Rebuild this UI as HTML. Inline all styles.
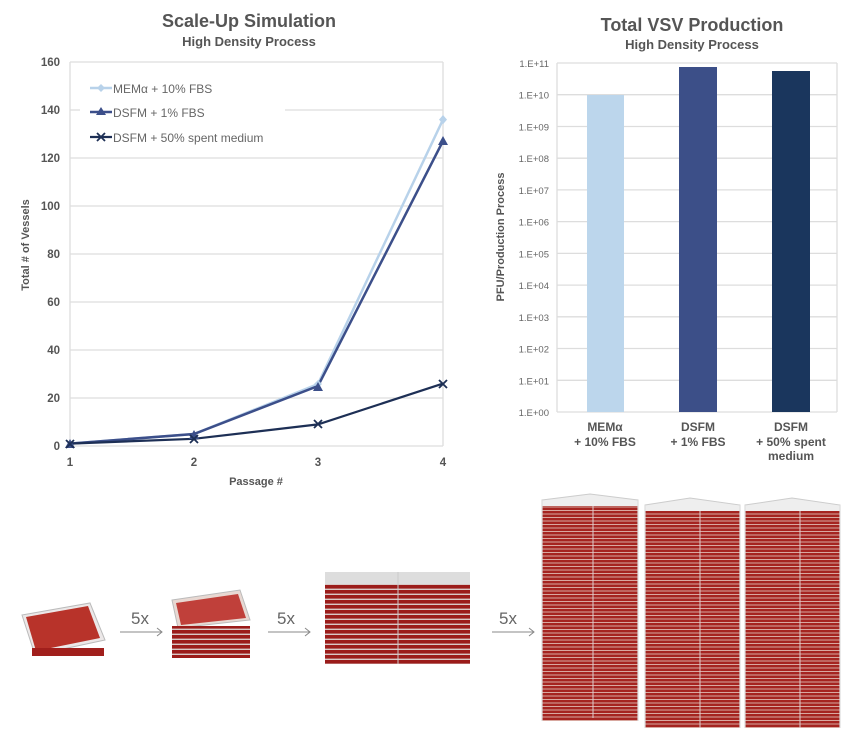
<!DOCTYPE html>
<html><head><meta charset="utf-8"><style>
body{margin:0;background:#fff;}
svg text{font-family:"Liberation Sans",Arial,sans-serif;}
</style></head><body>
<svg width="865" height="731" viewBox="0 0 865 731" xmlns="http://www.w3.org/2000/svg">
<defs>
<pattern id="st" width="10" height="5" patternUnits="userSpaceOnUse">
<rect width="10" height="5" fill="#9b1c1a"/><rect y="3.6" width="10" height="1.4" fill="#d9c8c6"/>
</pattern>
<pattern id="st2" width="10" height="3.5" patternUnits="userSpaceOnUse">
<rect width="10" height="3.5" fill="#a52420"/><rect y="2.5" width="10" height="1" fill="#d8a8a0"/>
</pattern>
</defs>
<!-- Left chart -->
<text x="249" y="27" text-anchor="middle" font-size="18" font-weight="bold" fill="#555">Scale-Up Simulation</text>
<text x="249" y="46" text-anchor="middle" font-size="13" font-weight="bold" fill="#555">High Density Process</text>
<g stroke="#ddd" stroke-width="1.3">
<line x1="70" y1="62" x2="443" y2="62"/><line x1="80" y1="110" x2="70" y2="110"/><line x1="285" y1="110" x2="443" y2="110"/>
<line x1="70" y1="158" x2="443" y2="158"/><line x1="70" y1="206" x2="443" y2="206"/>
<line x1="70" y1="254" x2="443" y2="254"/><line x1="70" y1="302" x2="443" y2="302"/><line x1="70" y1="350" x2="443" y2="350"/>
<line x1="70" y1="398" x2="443" y2="398"/><line x1="70" y1="446" x2="443" y2="446"/>
<line x1="70" y1="62" x2="70" y2="446"/><line x1="443" y1="62" x2="443" y2="446"/>
</g>
<g font-size="11.5" font-weight="bold" fill="#555" text-anchor="end">
<text x="60" y="66">160</text><text x="60" y="114">140</text><text x="60" y="162">120</text><text x="60" y="210">100</text>
<text x="60" y="258">80</text><text x="60" y="306">60</text><text x="60" y="354">40</text><text x="60" y="402">20</text><text x="60" y="450">0</text>
</g>
<g font-size="11.5" font-weight="bold" fill="#555" text-anchor="middle">
<text x="70" y="466">1</text><text x="194" y="466">2</text><text x="318" y="466">3</text><text x="443" y="466">4</text>
<text x="256" y="485" font-size="11">Passage #</text>
</g>
<text transform="translate(29,245) rotate(-90)" text-anchor="middle" font-size="11" font-weight="bold" fill="#555">Total # of Vessels</text>
<polyline points="70,443.6 194,434 318,384 443,119.6" fill="none" stroke="#b8d2ea" stroke-width="2.5"/>
<polyline points="70,443.6 194,434 318,386 443,141" fill="none" stroke="#3c4f8a" stroke-width="2.5"/>
<polyline points="70,443.6 194,438.8 318,424.4 443,383.6" fill="none" stroke="#1d2f55" stroke-width="2.2"/>
<g fill="#b8d2ea"><path d="M443 115l4 4.6-4 4.6-4-4.6z"/><path d="M318 380l4 4-4 4-4-4z"/></g>
<g fill="#3c4f8a"><path d="M443 136l5 9h-10z"/><path d="M318 382l5 9h-10z"/><path d="M194 430l5 9h-10z"/><path d="M70 439l5 9h-10z"/></g>
<g stroke="#1d2f55" stroke-width="1.8"><path d="M439 380l8 8M447 380l-8 8M314 420l8 8M322 420l-8 8M190 435l8 8M198 435l-8 8M66 440l8 8M74 440l-8 8"/></g>
<!-- legend -->
<line x1="90" y1="88" x2="112" y2="88" stroke="#b8d2ea" stroke-width="2.5"/><path d="M101 84l4 4-4 4-4-4z" fill="#b8d2ea"/>
<line x1="90" y1="112" x2="112" y2="112" stroke="#3c4f8a" stroke-width="2.5"/><path d="M101 107l5 8h-10z" fill="#3c4f8a"/>
<line x1="90" y1="137" x2="112" y2="137" stroke="#1d2f55" stroke-width="2.2"/><path d="M97 133l8 8M105 133l-8 8" stroke="#1d2f55" stroke-width="1.8"/>
<g font-size="12" fill="#666"><text x="113" y="93">MEMα + 10% FBS</text><text x="113" y="117">DSFM + 1% FBS</text><text x="113" y="142">DSFM + 50% spent medium</text></g>
<!-- Right chart -->
<text x="692" y="31" text-anchor="middle" font-size="18" font-weight="bold" fill="#555">Total VSV Production</text>
<text x="692" y="49" text-anchor="middle" font-size="13" font-weight="bold" fill="#555">High Density Process</text>
<g stroke="#ddd" stroke-width="1.3">
<line x1="557" y1="63" x2="837" y2="63"/><line x1="557" y1="94.7" x2="837" y2="94.7"/><line x1="557" y1="126.5" x2="837" y2="126.5"/>
<line x1="557" y1="158.2" x2="837" y2="158.2"/><line x1="557" y1="189.9" x2="837" y2="189.9"/><line x1="557" y1="221.6" x2="837" y2="221.6"/>
<line x1="557" y1="253.4" x2="837" y2="253.4"/><line x1="557" y1="285.1" x2="837" y2="285.1"/><line x1="557" y1="316.8" x2="837" y2="316.8"/>
<line x1="557" y1="348.5" x2="837" y2="348.5"/><line x1="557" y1="380.3" x2="837" y2="380.3"/><line x1="557" y1="412" x2="837" y2="412"/>
<line x1="557" y1="63" x2="557" y2="412"/><line x1="837" y1="63" x2="837" y2="412"/>
</g>
<g font-size="9.5" fill="#666" text-anchor="end">
<text x="549" y="67">1.E+11</text><text x="549" y="98.7">1.E+10</text><text x="549" y="130.5">1.E+09</text><text x="549" y="162.2">1.E+08</text>
<text x="549" y="193.9">1.E+07</text><text x="549" y="225.6">1.E+06</text><text x="549" y="257.4">1.E+05</text><text x="549" y="289.1">1.E+04</text>
<text x="549" y="320.8">1.E+03</text><text x="549" y="352.5">1.E+02</text><text x="549" y="384.3">1.E+01</text><text x="549" y="416">1.E+00</text>
</g>
<text transform="translate(504,237) rotate(-90)" text-anchor="middle" font-size="11" font-weight="bold" fill="#555">PFU/Production Process</text>
<rect x="587" y="95" width="37" height="317" fill="#bcd6ec"/>
<rect x="679" y="67" width="38" height="345" fill="#3c4f88"/>
<rect x="772" y="71" width="38" height="341" fill="#1a365d"/>
<g font-size="12" font-weight="bold" fill="#555" text-anchor="middle">
<text x="605" y="431">MEMα</text><text x="605" y="446">+ 10% FBS</text>
<text x="698" y="431">DSFM</text><text x="698" y="446">+ 1% FBS</text>
<text x="791" y="431">DSFM</text><text x="791" y="446">+ 50% spent</text><text x="791" y="460">medium</text>
</g>
<!-- photos -->
<g>
<path d="M22 615 L90 603 L105 640 L35 655 Z" fill="#ece8e8" stroke="#bbb"/>
<path d="M26 617 L88 606 L100 638 L36 651 Z" fill="#b8332a"/>
<rect x="32" y="648" width="72" height="8" fill="#a11f1c"/>
<path d="M172 600 L240 590 L250 620 L178 628 Z" fill="#e8d8d2" stroke="#bbb"/>
<path d="M176 603 L238 594 L246 618 L181 625 Z" fill="#c0403a"/>
<rect x="172" y="626" width="78" height="32" fill="url(#st)"/>
<rect x="325" y="572" width="145" height="12" fill="#ddd"/>
<rect x="325" y="584" width="145" height="80" fill="url(#st)"/>
<line x1="398" y1="572" x2="398" y2="664" stroke="#ccc"/>
<!-- towers -->
<path d="M542 500 L590 494 L638 500 L638 508 L542 508 Z" fill="#eeeeee" stroke="#ccc"/>
<rect x="542" y="506" width="96" height="215" fill="url(#st2)"/>
<line x1="593" y1="506" x2="593" y2="718" stroke="#e0cccc" stroke-width="1"/>
<path d="M645 505 L690 498 L740 505 L740 512 L645 512 Z" fill="#eeeeee" stroke="#ccc"/>
<rect x="645" y="511" width="95" height="217" fill="url(#st2)"/>
<line x1="700" y1="511" x2="700" y2="728" stroke="#e0cccc" stroke-width="1"/>
<path d="M745 505 L792 498 L840 505 L840 512 L745 512 Z" fill="#eeeeee" stroke="#ccc"/>
<rect x="745" y="511" width="95" height="217" fill="url(#st2)"/>
<line x1="800" y1="511" x2="800" y2="728" stroke="#e0cccc" stroke-width="1"/>
<g stroke="#ddd" stroke-width="1.2">
<line x1="542" y1="500" x2="542" y2="721"/><line x1="638" y1="500" x2="638" y2="721"/>
<line x1="645" y1="505" x2="645" y2="728"/><line x1="740" y1="505" x2="740" y2="728"/>
<line x1="745" y1="505" x2="745" y2="728"/><line x1="840" y1="505" x2="840" y2="728"/>
</g>
</g>
<g font-size="17" fill="#666">
<text x="131" y="624">5x</text><text x="277" y="624">5x</text><text x="499" y="624">5x</text>
</g>
<g stroke="#888" stroke-width="1" fill="none">
<path d="M120 632H162M157 628l5 4-5 4"/><path d="M268 632H310M305 628l5 4-5 4"/><path d="M492 632H534M529 628l5 4-5 4"/>
</g>
</svg>
</body></html>
